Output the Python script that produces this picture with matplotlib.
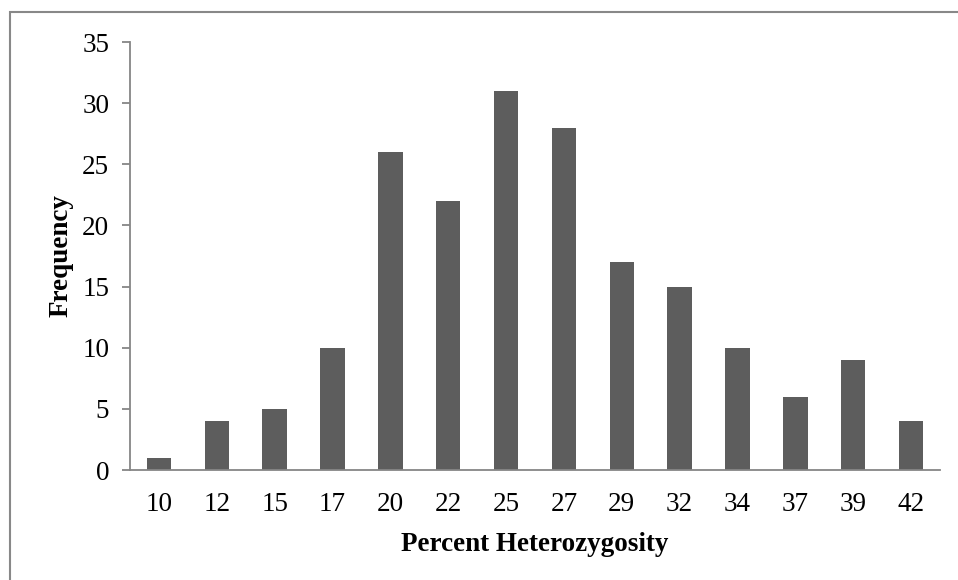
import matplotlib
matplotlib.use("Agg")
import matplotlib.pyplot as plt
from matplotlib.patches import Rectangle

categories = ["10", "12", "15", "17", "20", "22", "25", "27", "29", "32", "34", "37", "39", "42"]
frequency = [1, 4, 5, 10, 26, 22, 31, 28, 17, 15, 10, 6, 9, 4]
yticks = [0, 5, 10, 15, 20, 25, 30, 35]

plt.rcParams['font.family'] = ['Liberation Serif', 'DejaVu Serif']

fig = plt.figure(figsize=(9.58, 5.8), dpi=100)
ax = fig.add_axes([130/958, 1-470/580, (940-130)/958, (470-42)/580])

x = list(range(len(categories)))
ax.bar(x, frequency, width=0.42, color='#5d5d5d')
ax.set_xlim(-0.5, len(categories) - 0.5)
ax.set_ylim(0, 35)
ax.set_yticks(yticks)
ax.set_xticks(x)
ax.set_xticklabels(categories)

for s in ['top', 'right']:
    ax.spines[s].set_visible(False)
for s in ['left', 'bottom']:
    ax.spines[s].set_color('#868686')
    ax.spines[s].set_linewidth(1.3)
ax.tick_params(axis='y', direction='out', length=6, width=1.3, color='#868686', labelsize=19.5, pad=9)
ax.tick_params(axis='x', length=0, labelsize=19.5, pad=16)

ax.set_xlabel('Percent Heterozygosity', fontsize=19.5, fontweight='bold', labelpad=10.5)
ax.set_ylabel('Frequency', fontsize=19.5, fontweight='bold', labelpad=6)

fig.patches.append(Rectangle((10/958, -0.1), 1.2, 1.1 - 12/580, transform=fig.transFigure,
                             fill=False, edgecolor='#888888', linewidth=1.5))

fig.savefig('out.png', dpi=100)
